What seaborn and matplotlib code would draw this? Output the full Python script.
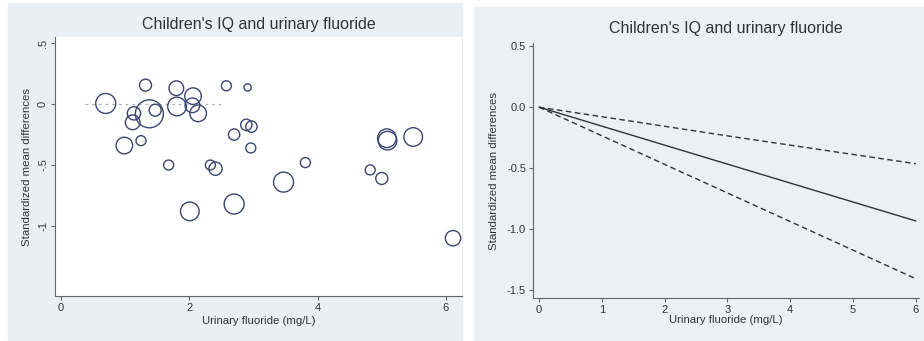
import numpy as np
import pandas as pd
import matplotlib
matplotlib.use("Agg")
import matplotlib.pyplot as plt
from matplotlib.patches import Rectangle
import seaborn as sns

# --- data ---
# left panel: one circle per study (urinary fluoride, SMD, relative weight)
study_fluoride = [0.70, 1.32, 1.14, 1.12, 1.38, 1.47, 0.99, 1.25, 1.80, 1.81, 2.06,
                  2.05, 2.14, 2.58, 2.91, 2.89, 2.97, 2.70, 2.96, 1.68, 2.33, 2.41,
                  2.01, 2.70, 3.47, 3.81, 4.82, 5.00, 5.08, 5.09, 5.49, 6.11]
study_smd = [0.005, 0.155, -0.076, -0.15, -0.08, -0.05, -0.34, -0.30, 0.13, -0.02, 0.065,
             -0.01, -0.076, 0.15, 0.136, -0.17, -0.185, -0.25, -0.36, -0.50, -0.50, -0.53,
             -0.88, -0.82, -0.64, -0.48, -0.54, -0.61, -0.28, -0.30, -0.27, -1.10]
study_weight = [100, 36, 44, 54, 196, 36, 69, 25, 54, 87, 69,
                54, 69, 25, 13, 32, 32, 32, 25, 25, 25, 44,
                87, 100, 100, 25, 25, 36, 87, 87, 87, 59]

# right panel: dose-response fit with 95% CI
dose = [0, 3, 6]
fit_smd = [0.0, -0.468, -0.935]
ci_low = [0.0, -0.705, -1.41]
ci_high = [0.0, -0.236, -0.465]

title = "Children's IQ and urinary fluoride"
xlab = "Urinary fluoride (mg/L)"
ylab = "Standardized mean differences"

sns.set_theme(style="white")
plt.rcParams['font.family'] = ['Liberation Sans', 'DejaVu Sans']

W, H = 924, 341
fig = plt.figure(figsize=(W / 100, H / 100), dpi=100, facecolor="white")
bg = "#e9eff3"
txt = "#333333"
spine_c = "#666666"

# grey panel backgrounds (Stata graph regions)
fig.patches.append(Rectangle((8 / W, 1 - 340 / H), (462 - 8) / W, (340 - 3) / H,
                             transform=fig.transFigure, color=bg, zorder=-10))
fig.patches.append(Rectangle((474 / W, 0), (924 - 474) / W, (341 - 7) / H,
                             transform=fig.transFigure, color="#ecf0f2", zorder=-10))

def px_axes(x0, y0, x1, y1):
    return fig.add_axes([x0 / W, 1 - y1 / H, (x1 - x0) / W, (y1 - y0) / H])

fs_title = 11.5
fs_lab = 8.2

# ---------- left: bubble plot ----------
ax1 = px_axes(55, 37, 462, 296)
ax1.set_facecolor("white")
df = pd.DataFrame({"x": study_fluoride, "y": study_smd, "w": study_weight})
ax1.plot([0.38, 2.52], [0, 0], color="#aab2ba", lw=0.8, ls=(0, (2.5, 3.5)), zorder=1)
sns.scatterplot(data=df, x="x", y="y", size="w", sizes=(0, 414), size_norm=(0, 200),
                facecolor="none", edgecolor="#3a4670", linewidth=1.0,
                legend=False, ax=ax1, zorder=3)
ax1.set_xlim(-0.09, 6.25)
ax1.set_ylim(-1.574, 0.55)
ax1.set_xticks([0, 2, 4, 6])
ax1.set_yticks([0.5, 0, -0.5, -1])
ax1.set_yticklabels([".5", "0", "-.5", "-1"], rotation=90, va="center")
ax1.set_title(title, fontsize=fs_title, color=txt, pad=6)
ax1.set_xlabel(xlab, fontsize=fs_lab, color=txt, labelpad=2)
ax1.set_ylabel(ylab, fontsize=fs_lab, color=txt, labelpad=4)
ax1.tick_params(axis="both", labelsize=8, colors=txt, length=3, width=0.8,
                direction="out", left=True, bottom=True, pad=2)
ax1.tick_params(axis="both", color=spine_c)
for s in ["top", "right"]:
    ax1.spines[s].set_visible(False)
for s in ["left", "bottom"]:
    ax1.spines[s].set_color(spine_c)
    ax1.spines[s].set_linewidth(0.8)

# ---------- right: dose-response line ----------
ax2 = px_axes(533, 43, 919, 298)
ax2.set_facecolor("none")
sns.lineplot(x=dose, y=fit_smd, color="#333333", lw=1.0, ax=ax2)
sns.lineplot(x=dose, y=ci_high, color="#333333", lw=1.0, ls=(0, (4, 2.5)), ax=ax2)
sns.lineplot(x=dose, y=ci_low, color="#333333", lw=1.0, ls=(0, (4, 2.5)), ax=ax2)
ax2.set_xlim(-0.096, 6.05)
ax2.set_ylim(-1.568, 0.527)
ax2.set_xticks(range(0, 7))
ax2.set_yticks([0.5, 0.0, -0.5, -1.0, -1.5])
ax2.set_yticklabels(["0.5", "0.0", "-0.5", "-1.0", "-1.5"])
ax2.set_title(title, fontsize=fs_title, color=txt, pad=7)
ax2.set_xlabel(xlab, fontsize=fs_lab, color=txt, labelpad=0)
ax2.set_ylabel(ylab, fontsize=fs_lab, color=txt, labelpad=6)
ax2.tick_params(axis="both", labelsize=8, colors=txt, length=3, width=0.8,
                direction="out", left=True, bottom=True, pad=2)
ax2.tick_params(axis="both", color=spine_c)
for s in ["top", "right"]:
    ax2.spines[s].set_visible(False)
for s in ["left", "bottom"]:
    ax2.spines[s].set_color(spine_c)
    ax2.spines[s].set_linewidth(0.8)

fig.savefig("out.png", dpi=100, facecolor="white")
